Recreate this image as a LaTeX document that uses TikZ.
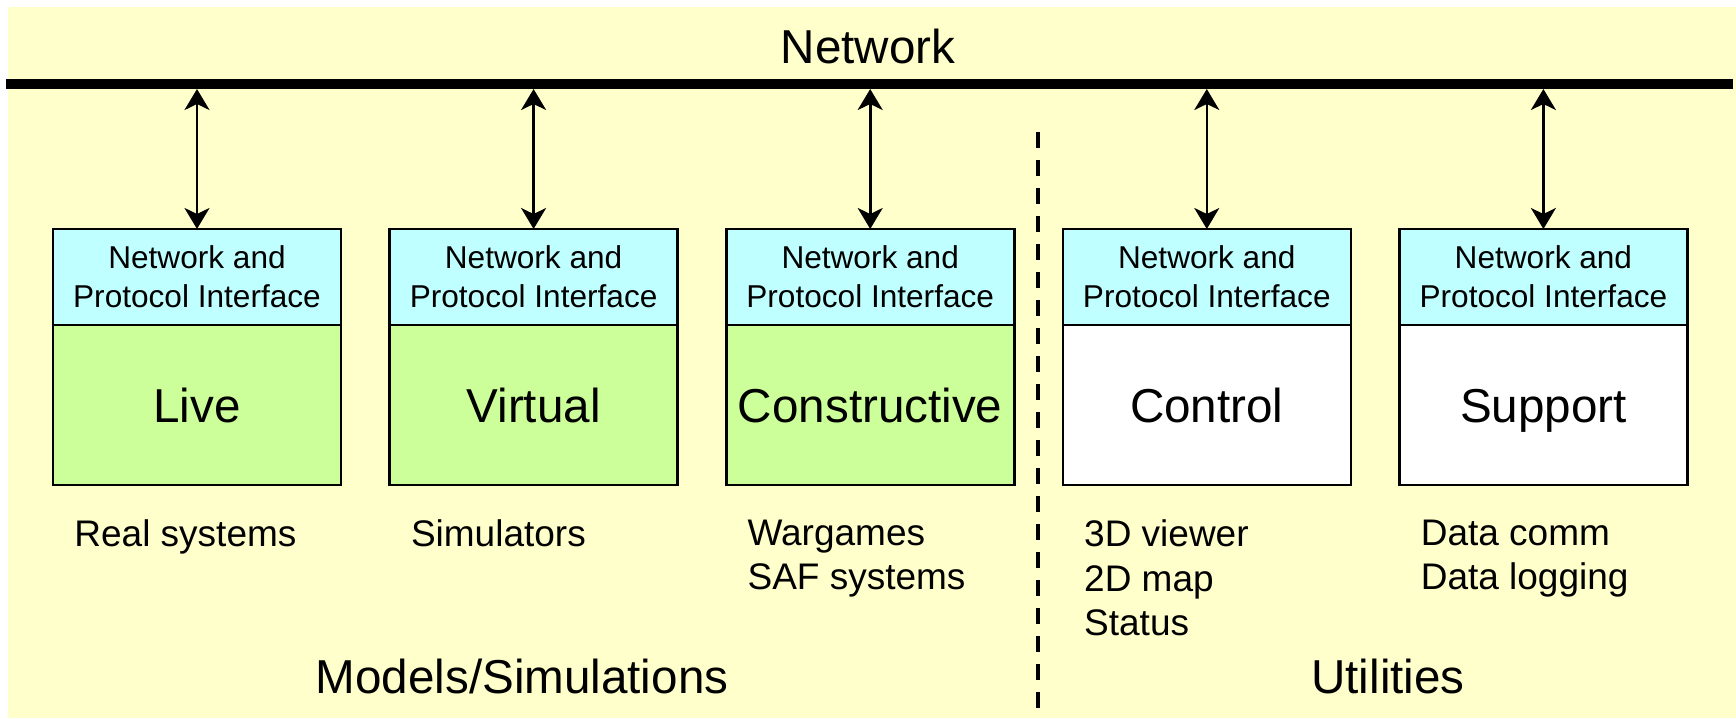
\documentclass[tikz,border=0pt]{standalone}
\usepackage{fontspec}
\setmainfont{Liberation Sans}
\usetikzlibrary{positioning,arrows.meta}
\definecolor{paleyellow}{RGB}{255,255,204}
\definecolor{nicblue}{RGB}{192,255,255}
\definecolor{simgreen}{RGB}{204,255,153}

\begin{document}
\begin{tikzpicture}[x=0.5pt,y=-0.5pt,
	nic/.style={
		draw=black, line width=1.3pt, fill=nicblue,
		minimum width=144pt, minimum height=48pt,
		outer sep=0pt, inner sep=0pt, align=center,
		font=\fontsize{15.8}{19.5}\selectfont
	},
	body/.style={
		draw=black, line width=1.3pt, fill=simgreen,
		minimum width=144pt, minimum height=80pt,
		outer sep=0pt, inner sep=0pt, text height=17pt, text depth=0pt,
		font=\fontsize{23.8}{28}\selectfont
	},
	util/.style={body, fill=white},
	note/.style={anchor=north west, inner sep=0pt, align=left,
		font=\fontsize{18.5}{22.3}\selectfont},
	heading/.style={anchor=base, inner sep=0pt,
		font=\fontsize{23.8}{28}\selectfont},
	link/.style={line width=1.3pt,
		{Stealth[length=10.5pt,width=12.5pt,inset=3pt]}-{Stealth[length=10.5pt,width=12.5pt,inset=3pt]}}
	]
	\useasboundingbox (0,0) rectangle (1736,718);
	\fill[paleyellow] (8,7) rectangle (1736,718);
	
	% the network bus
	\node[heading] (net-title) at (868,63) {Network};
	\coordinate (bus-west) at (6,84);
	\coordinate (bus-east) at (1733,84);
	\coordinate (bus-foot) at (0,89);
	\draw[line width=5pt] (bus-west) -- (bus-east);
	
	% models / simulations
	\node[nic, anchor=north west] (live-nic) at (53,229) {Network and\\Protocol Interface};
	\node[body, below=0pt of live-nic] (live) {Live};
	\node[nic, right=24.3pt of live-nic] (virtual-nic) {Network and\\Protocol Interface};
	\node[body, below=0pt of virtual-nic] (virtual) {Virtual};
	\node[nic, right=24.3pt of virtual-nic] (constructive-nic) {Network and\\Protocol Interface};
	\node[body, below=0pt of constructive-nic] (constructive) {Constructive};
	
	% utilities
	\node[nic, right=24.3pt of constructive-nic] (control-nic) {Network and\\Protocol Interface};
	\node[util, below=0pt of control-nic] (control) {Control};
	\node[nic, right=24.3pt of control-nic] (support-nic) {Network and\\Protocol Interface};
	\node[util, below=0pt of support-nic] (support) {Support};
	
	\foreach \n in {live,virtual,constructive,control,support}
	\draw[link] (\n-nic.north |- bus-foot) -- (\n-nic.north);
	
	% examples under each box
	\node[note, below right=17.2pt and 10.5pt of live.south west] (live-note) {Real systems};
	\node[note, below right=17.2pt and 10.5pt of virtual.south west] (virtual-note) {Simulators};
	\node[note, below right=17.2pt and 10.5pt of constructive.south west] (constructive-note) {Wargames\\SAF systems};
	\node[note, below right=17.2pt and 10.5pt of control.south west] (control-note) {3D viewer\\2D map\\Status};
	\node[note, below right=17.2pt and 10.5pt of support.south west] (support-note) {Data comm\\Data logging};
	
	% split between the two groups
	\coordinate (split-top) at (1038,132);
	\coordinate (split-bottom) at (1038,709);
	\draw[line width=1.8pt, dash pattern=on 8pt off 6pt] (split-top) -- (split-bottom);
	
	\node[heading] (models-title) at (522,693) {Models/Simulations};
	\node[heading] (util-title) at (1388,693) {Utilities};
\end{tikzpicture}
\end{document}
